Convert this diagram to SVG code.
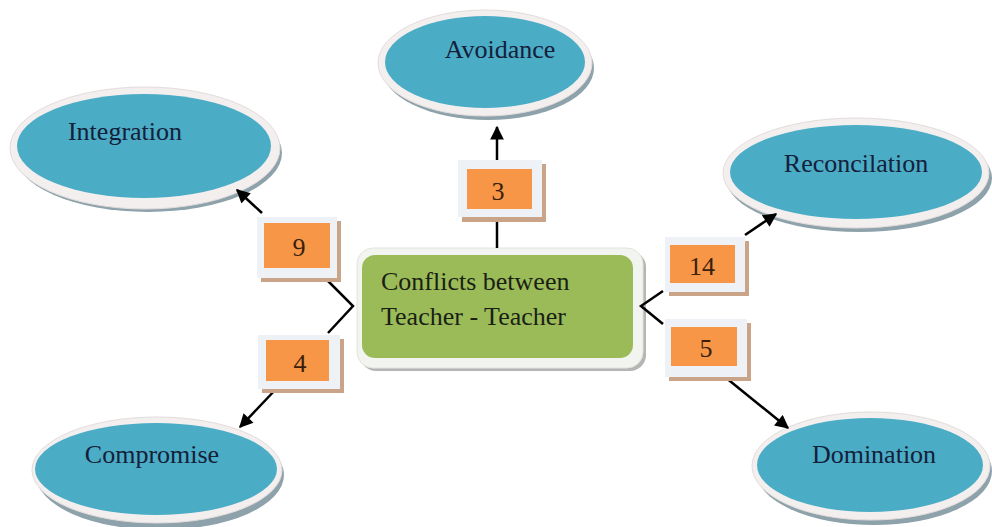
<svg xmlns="http://www.w3.org/2000/svg" width="992" height="527" viewBox="0 0 992 527">
<defs>
<style>
.eshadow{fill:#8da2aa}
.erim{fill:#f3efef;stroke:#e3dcdc;stroke-width:1}
.eblue{fill:#4bacc6}
.elabel{font-size:26px;fill:#14203a;text-anchor:middle}
.bshadow{fill:#c9a488}
.brim{fill:#eef2f7}
.borange{fill:#f79646}
.blabel{font-size:26px;fill:#3a1f0e;text-anchor:middle}
.ctext{font-size:26px;fill:#1a1f14}
.conn{fill:none;stroke:#000;stroke-width:2.5}
</style>
<marker id="ah" viewBox="0 0 10 10" refX="9" refY="5" markerWidth="6" markerHeight="5.5" orient="auto" markerUnits="strokeWidth">
<path d="M0,0 L10,5 L0,10 z" fill="#000"/>
</marker>
</defs>
<rect width="992" height="527" fill="#ffffff"/>
<g font-family="'Liberation Serif', 'Times New Roman', 'DejaVu Serif', serif">

<g id="avoidance">
<ellipse class="eshadow" cx="488" cy="68" rx="106" ry="52"/>
<ellipse class="erim" cx="485" cy="63" rx="107" ry="53"/>
<ellipse class="eblue" cx="485" cy="62" rx="100" ry="46"/>
<text class="elabel" x="500" y="58">Avoidance</text>
</g>

<g id="integration">
<ellipse class="eshadow" cx="148" cy="153" rx="134" ry="59"/>
<ellipse class="erim" cx="145" cy="148" rx="135" ry="61"/>
<ellipse class="eblue" cx="144" cy="146" rx="127" ry="52"/>
<text class="elabel" x="125" y="140">Integration</text>
</g>

<g id="reconcilation">
<ellipse class="eshadow" cx="859" cy="178" rx="133" ry="54"/>
<ellipse class="erim" cx="856" cy="173" rx="133" ry="55"/>
<ellipse class="eblue" cx="856" cy="172" rx="126" ry="47"/>
<text class="elabel" x="856" y="172">Reconcilation</text>
</g>

<g id="compromise">
<ellipse class="eshadow" cx="160" cy="475" rx="124" ry="55"/>
<ellipse class="erim" cx="157" cy="470" rx="125" ry="53"/>
<ellipse class="eblue" cx="156" cy="469" rx="121" ry="46"/>
<text class="elabel" x="152" y="463">Compromise</text>
</g>

<g id="domination">
<ellipse class="eshadow" cx="874" cy="471" rx="118" ry="54"/>
<ellipse class="erim" cx="871" cy="466" rx="119" ry="54"/>
<ellipse class="eblue" cx="870" cy="465" rx="113" ry="47"/>
<text class="elabel" x="874" y="463">Domination</text>
</g>

<g id="center">
<rect x="360" y="251" width="286" height="120" rx="16" fill="#b5b5b5"/>
<rect x="357" y="248" width="286" height="120" rx="16" fill="#f2f4ef" stroke="#e2e6dc"/>
<rect x="362" y="255" width="271" height="103" rx="13" fill="#9bbb59"/>
<text class="ctext" x="381" y="290">Conflicts between</text>
<text class="ctext" x="381" y="325">Teacher - Teacher</text>
</g>

<g id="connectors">
<line class="conn" x1="497" y1="248" x2="497" y2="220"/>
<line class="conn" x1="497" y1="160" x2="497" y2="127" marker-end="url(#ah)"/>
<polyline class="conn" points="327,280 353,306 328,333"/>
<line class="conn" x1="262" y1="213" x2="237" y2="190" marker-end="url(#ah)"/>
<line class="conn" x1="277" y1="388" x2="240" y2="427" marker-end="url(#ah)"/>
<polyline class="conn" points="663,291 641,306 663,324"/>
<line class="conn" x1="745" y1="235" x2="776" y2="214" marker-end="url(#ah)"/>
<line class="conn" x1="725" y1="377" x2="788" y2="428" marker-end="url(#ah)"/>
</g>

<g id="label-3">
<rect class="bshadow" x="462" y="164" width="84" height="58"/>
<rect class="brim" x="458" y="160" width="84" height="57"/>
<rect class="borange" x="467" y="169" width="65" height="40"/>
<text class="blabel" x="498" y="200">3</text>
</g>

<g id="label-9">
<rect class="bshadow" x="261" y="221" width="80" height="61"/>
<rect class="brim" x="257" y="217" width="80" height="61"/>
<rect class="borange" x="264" y="223" width="66" height="45"/>
<text class="blabel" x="299" y="256">9</text>
</g>

<g id="label-4">
<rect class="bshadow" x="262" y="339" width="82" height="54"/>
<rect class="brim" x="258" y="335" width="82" height="54"/>
<rect class="borange" x="266" y="340" width="63" height="41"/>
<text class="blabel" x="300" y="372">4</text>
</g>

<g id="label-14">
<rect class="bshadow" x="669" y="241" width="80" height="55"/>
<rect class="brim" x="665" y="237" width="80" height="55"/>
<rect class="borange" x="670" y="245" width="65" height="38"/>
<text class="blabel" x="702" y="275">14</text>
</g>

<g id="label-5">
<rect class="bshadow" x="669" y="323" width="82" height="58"/>
<rect class="brim" x="665" y="319" width="82" height="58"/>
<rect class="borange" x="671" y="327" width="66" height="39"/>
<text class="blabel" x="706" y="357">5</text>
</g>
</g>
</svg>
